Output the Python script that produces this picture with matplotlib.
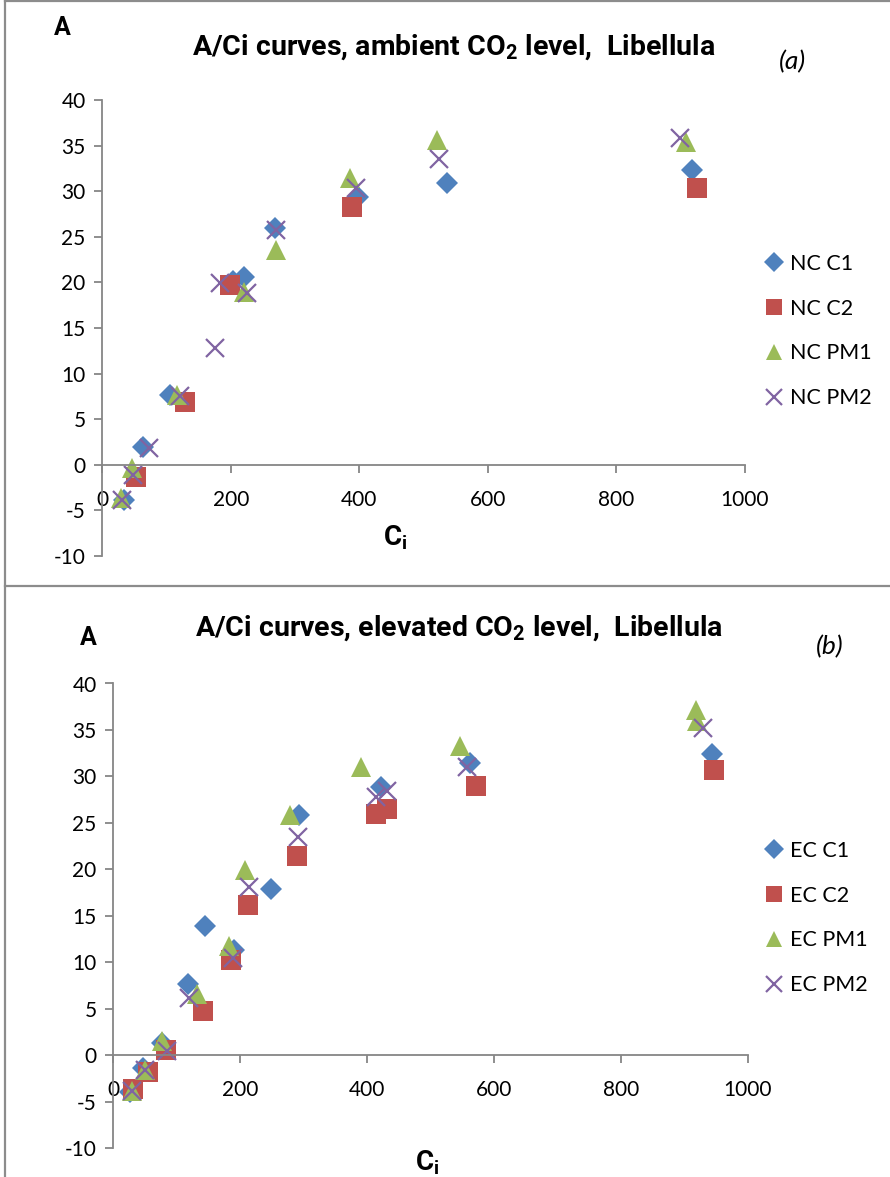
import matplotlib
matplotlib.use('Agg')
from matplotlib import pyplot as plt
from matplotlib.lines import Line2D

plt.rcParams['font.family'] = ['Lato', 'DejaVu Sans']
plt.rcParams['mathtext.fontset'] = 'custom'
plt.rcParams['mathtext.rm'] = 'Roboto:bold'
plt.rcParams['mathtext.bf'] = 'Roboto:bold'
plt.rcParams['axes.unicode_minus'] = False

# ambient CO2 (NC) series
nc_c1_x = [33, 64, 105, 204, 220, 269, 398, 537, 917]
nc_c1_y = [-3.9, 2.0, 7.6, 20.2, 20.6, 26.0, 29.4, 30.9, 32.3]
nc_c2_x = [53, 129, 198, 388, 926]
nc_c2_y = [-1.3, 6.9, 19.7, 28.3, 30.4]
nc_pm1_x = [29, 46, 117, 220, 270, 385, 521, 908]
nc_pm1_y = [-3.6, -0.3, 7.6, 19.0, 23.5, 31.4, 35.6, 35.4]
nc_pm2_x = [30, 48, 72, 121, 175, 183, 225, 271, 394, 524, 899]
nc_pm2_y = [-3.9, -1.1, 1.8, 7.5, 12.8, 19.9, 18.8, 25.7, 30.3, 33.5, 35.8]

# elevated CO2 (EC) series
ec_c1_x = [27, 47, 76, 118, 145, 190, 248, 293, 421, 562, 944]
ec_c1_y = [-4.0, -1.4, 1.3, 7.7, 13.9, 11.3, 17.9, 25.8, 28.9, 31.4, 32.4]
ec_c2_x = [31, 55, 83, 142, 186, 212, 289, 414, 432, 571, 947]
ec_c2_y = [-3.7, -1.8, 0.6, 4.8, 10.2, 16.2, 21.4, 25.9, 26.5, 29.0, 30.7]
ec_pm1_x = [29, 50, 76, 132, 183, 208, 279, 390, 546, 918, 920]
ec_pm1_y = [-3.9, -1.6, 1.5, 6.6, 11.7, 19.9, 25.8, 31.0, 33.3, 37.1, 36.0]
ec_pm2_x = [30, 50, 84, 119, 188, 214, 291, 414, 432, 558, 929]
ec_pm2_y = [-3.9, -1.6, 0.4, 6.2, 10.4, 18.1, 23.5, 27.8, 28.4, 31.0, 35.2]

x_ticks = [0, 200, 400, 600, 800, 1000]
y_ticks = [-10, -5, 0, 5, 10, 15, 20, 25, 30, 35, 40]

colors = ['#4F81BD', '#C0504D', '#9BBB59', '#8064A2']
markers = [('D', 11.5), ('s', 14), ('^', 14), ('x', 13)]
grey = '#868686'
bold_font = ['Roboto', 'DejaVu Sans']

W, H = 890, 1177
fig = plt.figure(figsize=(W / 100, H / 100), dpi=100)


def fx(px):
    return px / W


def fy(py):
    return 1 - py / H


def panel(rect, series, names, title, tag, a_pos, title_pos, tag_pos, ci_pos, leg_pos):
    ax = fig.add_axes(rect)
    for (xs, ys), name, c, (m, ms) in zip(series, names, colors, markers):
        if m == 'x':
            ax.plot(xs, ys, ls='none', marker=m, ms=ms, mew=1.6, color=c, label=name)
        else:
            ax.plot(xs, ys, ls='none', marker=m, ms=ms, mew=0, color=c, label=name)
    ax.set_xlim(0, 1000)
    ax.set_ylim(-10, 40)
    ax.set_xticks(x_ticks)
    ax.set_yticks(y_ticks)
    ax.spines['top'].set_visible(False)
    ax.spines['right'].set_visible(False)
    ax.spines['bottom'].set_position(('data', 0))
    for s in ['left', 'bottom']:
        ax.spines[s].set_color(grey)
        ax.spines[s].set_linewidth(1.3)
    ax.tick_params(axis='both', colors=grey, labelcolor='black', labelsize=15,
                   length=6, width=1.3, direction='out')
    ax.tick_params(axis='x', pad=12)
    ax.tick_params(axis='y', pad=6)
    ax.patch.set_alpha(0)
    fig.text(fx(a_pos[0]), fy(a_pos[1]), 'A', fontsize=18, fontweight='bold',
             family=bold_font, ha='center', va='center')
    fig.text(fx(title_pos[0]), fy(title_pos[1]), title, fontsize=20.5, fontweight='bold',
             family=bold_font, ha='center', va='center')
    fig.text(fx(tag_pos[0]), fy(tag_pos[1]), tag, fontsize=19, style='italic',
             ha='center', va='center')
    fig.text(fx(ci_pos[0]), fy(ci_pos[1]), r'C$_\mathbf{i}$', fontsize=20,
             fontweight='bold', family=bold_font, ha='center', va='center')
    handles = [Line2D([], [], ls='none', marker=m, ms=ms * 0.85,
                      mew=(1.6 if m == 'x' else 0), color=c)
               for c, (m, ms) in zip(colors, markers)]
    fig.legend(handles, names, loc='upper left',
               bbox_to_anchor=(fx(leg_pos[0]), fy(leg_pos[1])),
               frameon=False, fontsize=15.5, handlelength=1.0,
               handletextpad=0.25, labelspacing=1.15, borderpad=0)
    return ax


nc_series = [(nc_c1_x, nc_c1_y), (nc_c2_x, nc_c2_y), (nc_pm1_x, nc_pm1_y), (nc_pm2_x, nc_pm2_y)]
ec_series = [(ec_c1_x, ec_c1_y), (ec_c2_x, ec_c2_y), (ec_pm1_x, ec_pm1_y), (ec_pm2_x, ec_pm2_y)]

panel([fx(102.3), fy(556), fx(745) - fx(102.3), fy(100) - fy(556)],
      nc_series, ['NC C1', 'NC C2', 'NC PM1', 'NC PM2'],
      r'A/Ci curves, ambient CO$_\mathbf{2}$ level,  Libellula', '(a)',
      (62, 28), (454, 47), (792, 62), (395, 538), (752, 243))

panel([fx(113.3), fy(1148), fx(748) - fx(113.3), fy(683.5) - fy(1148)],
      ec_series, ['EC C1', 'EC C2', 'EC PM1', 'EC PM2'],
      r'A/Ci curves, elevated CO$_\mathbf{2}$ level,  Libellula', '(b)',
      (88, 638), (459, 628), (830, 647), (427, 1163), (752, 830))

# panel borders
for xs, ys in [([fx(5), fx(5)], [fy(1), fy(1177)]),
               ([fx(5), fx(890)], [fy(1), fy(1)]),
               ([fx(5), fx(890)], [fy(586), fy(586)])]:
    fig.add_artist(Line2D(xs, ys, color='#8c8c8c', lw=1.6))

plt.savefig('out.png', dpi=100)
